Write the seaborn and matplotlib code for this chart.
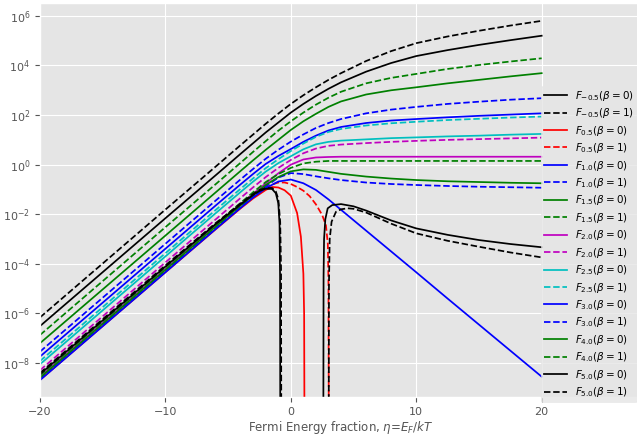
import numpy as np
import matplotlib
matplotlib.use('Agg')
import matplotlib.pyplot as plt
import seaborn as sns
from matplotlib.ticker import NullLocator

# ---------------- data (values are log10 of F) ----------------
ETA = [-20, -10, -6, -4, -3, -2, -1, 0, 1, 2, 3, 4, 6, 8, 10, 12.5, 15, 17.5, 20]

logF_m05_b0 = [-6.51, -2.16, -0.43, 0.44, 0.87, 1.30, 1.70, 2.10, 2.45, 2.77, 3.06, 3.32, 3.75, 4.10, 4.38, 4.62, 4.83, 5.02, 5.20]
logF_m05_b1 = [-6.16, -1.81, -0.08, 0.79, 1.22, 1.65, 2.06, 2.45, 2.80, 3.12, 3.42, 3.69, 4.18, 4.58, 4.90, 5.17, 5.40, 5.61, 5.80]

eta_05_b0 = [-20, -10, -6, -4, -3, -2, -1.5, -1, -0.5, 0, 0.5, 0.8, 1.0, 1.06, 1.09]
logF_05_b0 = [-8.68, -4.34, -2.61, -1.76, -1.36, -1.02, -0.90, -0.92, -1.03, -1.25, -1.95, -2.9, -4.4, -6.0, -11]
eta_05_b1 = [-20, -10, -6, -4, -3, -2, -1.5, -1, -0.5, 0, 0.5, 1, 1.5, 2, 2.5, 2.8, 2.95, 3.0, 3.03]
logF_05_b1 = [-8.63, -4.29, -2.56, -1.71, -1.30, -0.94, -0.80, -0.72, -0.72, -0.78, -0.90, -1.05, -1.27, -1.60, -2.03, -2.45, -3.2, -4.8, -11]

logF_10_b0 = [-7.74, -3.39, -1.65, -0.79, -0.37, 0.03, 0.35, 0.63, 0.92, 1.17, 1.38, 1.52, 1.68, 1.78, 1.84, 1.91, 1.97, 2.02, 2.07]
logF_10_b1 = [-7.54, -3.19, -1.45, -0.59, -0.17, 0.24, 0.60, 0.93, 1.22, 1.48, 1.68, 1.84, 2.07, 2.22, 2.33, 2.45, 2.54, 2.62, 2.68]
logF_15_b0 = [-7.20, -2.86, -1.12, -0.25, 0.18, 0.60, 1.00, 1.40, 1.75, 2.05, 2.33, 2.55, 2.83, 3.00, 3.12, 3.28, 3.42, 3.56, 3.69]
logF_15_b1 = [-6.87, -2.52, -0.79, 0.08, 0.52, 0.95, 1.37, 1.75, 2.10, 2.42, 2.70, 2.94, 3.28, 3.50, 3.66, 3.86, 4.02, 4.16, 4.29]
logF_20_b0 = [-8.55, -4.21, -2.47, -1.60, -1.17, -0.75, -0.35, 0.00, 0.21, 0.29, 0.31, 0.32, 0.32, 0.32, 0.32, 0.32, 0.32, 0.32, 0.32]
logF_20_b1 = [-8.29, -3.94, -2.21, -1.34, -0.91, -0.50, -0.13, 0.19, 0.46, 0.65, 0.76, 0.81, 0.87, 0.92, 0.96, 1.00, 1.03, 1.06, 1.09]
logF_25_b0 = [-8.05, -3.70, -1.96, -1.10, -0.68, -0.28, 0.06, 0.34, 0.62, 0.82, 0.92, 0.97, 1.02, 1.07, 1.10, 1.14, 1.17, 1.21, 1.24]
logF_25_b1 = [-7.92, -3.57, -1.83, -0.97, -0.55, -0.14, 0.22, 0.55, 0.85, 1.12, 1.32, 1.44, 1.58, 1.67, 1.73, 1.80, 1.85, 1.90, 1.94]
logF_30_b0 = [-8.69, -4.34, -2.60, -1.74, -1.32, -0.95, -0.68, -0.60, -0.75, -1.02, -1.40, -1.82, -2.66, -3.50, -4.34, -5.40, -6.45, -7.50, -8.55]
logF_30_b1 = [-8.64, -4.29, -2.55, -1.70, -1.28, -0.88, -0.52, -0.34, -0.38, -0.47, -0.55, -0.62, -0.72, -0.78, -0.82, -0.86, -0.89, -0.91, -0.93]
logF_40_b0 = [-8.59, -4.24, -2.50, -1.64, -1.22, -0.82, -0.50, -0.27, -0.19, -0.21, -0.29, -0.37, -0.48, -0.56, -0.62, -0.67, -0.70, -0.73, -0.75]
logF_40_b1 = [-8.49, -4.14, -2.40, -1.54, -1.11, -0.70, -0.38, -0.13, 0.05, 0.12, 0.15, 0.15, 0.15, 0.15, 0.15, 0.15, 0.15, 0.15, 0.15]

eta_50_b0_left = [-20, -10, -6, -4, -3, -2.5, -2, -1.5, -1.2, -1.0, -0.9, -0.86, -0.84]
logF_50_b0_left = [-8.45, -4.11, -2.40, -1.60, -1.22, -1.06, -0.97, -0.98, -1.15, -1.55, -2.4, -4.5, -11]
eta_50_b0_right = [2.59, 2.61, 2.65, 2.75, 2.94, 3.3, 4.0, 5, 6, 8, 10, 12.5, 15, 17.5, 20]
logF_50_b0_right = [-11, -4.5, -3.0, -2.2, -1.76, -1.63, -1.59, -1.68, -1.85, -2.25, -2.57, -2.83, -3.04, -3.20, -3.33]
eta_50_b1_left = [-20, -10, -6, -4, -3, -2.5, -2, -1.5, -1.2, -1.0, -0.85, -0.78, -0.76]
logF_50_b1_left = [-8.40, -4.06, -2.36, -1.56, -1.18, -1.02, -0.94, -0.94, -1.08, -1.38, -2.3, -4.2, -11]
eta_50_b1_right = [3.02, 3.04, 3.1, 3.25, 3.6, 4.0, 4.53, 5, 6, 8, 10, 12.5, 15, 17.5, 20]
logF_50_b1_right = [-11, -4.8, -3.0, -2.3, -1.9, -1.8, -1.76, -1.78, -1.93, -2.38, -2.77, -3.07, -3.31, -3.54, -3.74]

orders = ['-0.5', '0.5', '1.0', '1.5', '2.0', '2.5', '3.0', '4.0', '5.0']
colors = ['k', 'r', 'b', 'g', 'm', 'c', 'b', 'g', 'k']

series = {
    ('-0.5', 0): [(ETA, logF_m05_b0)],
    ('-0.5', 1): [(ETA, logF_m05_b1)],
    ('0.5', 0): [(eta_05_b0, logF_05_b0)],
    ('0.5', 1): [(eta_05_b1, logF_05_b1)],
    ('1.0', 0): [(ETA, logF_10_b0)],
    ('1.0', 1): [(ETA, logF_10_b1)],
    ('1.5', 0): [(ETA, logF_15_b0)],
    ('1.5', 1): [(ETA, logF_15_b1)],
    ('2.0', 0): [(ETA, logF_20_b0)],
    ('2.0', 1): [(ETA, logF_20_b1)],
    ('2.5', 0): [(ETA, logF_25_b0)],
    ('2.5', 1): [(ETA, logF_25_b1)],
    ('3.0', 0): [(ETA, logF_30_b0)],
    ('3.0', 1): [(ETA, logF_30_b1)],
    ('4.0', 0): [(ETA, logF_40_b0)],
    ('4.0', 1): [(ETA, logF_40_b1)],
    ('5.0', 0): [(eta_50_b0_left, logF_50_b0_left), (eta_50_b0_right, logF_50_b0_right)],
    ('5.0', 1): [(eta_50_b1_left, logF_50_b1_left), (eta_50_b1_right, logF_50_b1_right)],
}

# ---------------- plot ----------------
plt.style.use('ggplot')
plt.rcParams['font.family'] = ['DejaVu Sans']

W, H = 637, 437
fig = plt.figure(figsize=(W / 100, H / 100), dpi=100)
ax = fig.add_axes([40 / W, 40 / H, 602 / W, 394 / H])

handles, labels = [], []
for k, c in zip(orders, colors):
    for beta, ls in [(0, '-'), (1, '--')]:
        lab = r'$F_{%s}(\beta=%d)$' % (k, beta)
        segs = series[(k, beta)]
        for i, (ex, ly) in enumerate(segs):
            sns.lineplot(x=np.array(ex, dtype=float), y=10.0 ** np.array(ly, dtype=float),
                         ax=ax, color=c, linestyle=ls, linewidth=1.25,
                         errorbar=None, sort=False, estimator=None,
                         label=lab if i == 0 else None, legend=False)
        handles.append(ax.lines[-len(segs)])
        labels.append(lab)

ax.set_yscale('log')
ax.set_xlim(-20, 28)
ax.set_ylim(10 ** -9.37, 10 ** 6.52)
ax.set_xticks([-20, -10, 0, 10, 20])
ax.set_yticks([1e-8, 1e-6, 1e-4, 1e-2, 1e0, 1e2, 1e4, 1e6])
ax.yaxis.set_minor_locator(NullLocator())
ax.tick_params(labelsize=8, colors='#555555')
ax.set_xlabel(r'Fermi Energy fraction, $\eta$=$E_F/kT$', fontsize=8.5, color='#555555', labelpad=2)
ax.set_ylabel('')

leg = ax.legend(handles, labels, loc='center left', bbox_to_anchor=(535.5 / W, 1 - 244 / H),
                bbox_transform=fig.transFigure, fontsize=7.5, frameon=True,
                facecolor='#E5E5E5', edgecolor='#E5E5E5', framealpha=0.8,
                handlelength=2.2, handletextpad=0.8, labelspacing=0.33, borderpad=0.3)

fig.savefig('out.png', dpi=100)
